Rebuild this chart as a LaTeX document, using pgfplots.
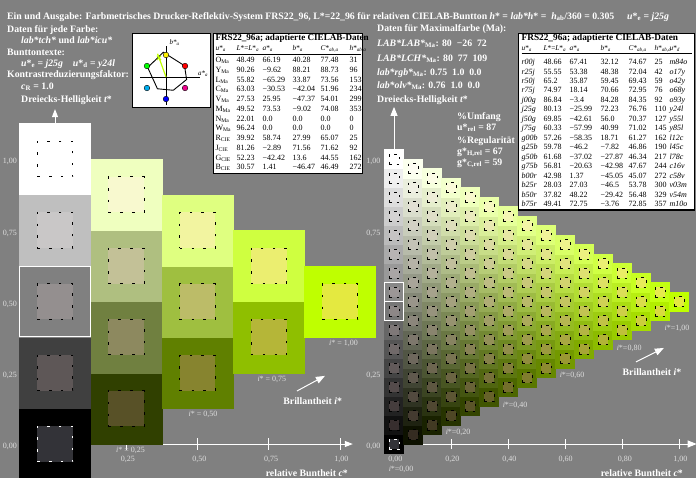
\documentclass[border=0pt]{standalone}
\usepackage{fontspec}
\setmainfont{Liberation Serif}
\usepackage{pgfplots}
\pgfplotsset{compat=1.18}
\usepackage{pgfplotstable}
\usetikzlibrary{arrows.meta}

\definecolor{bgc}{rgb}{0.5,0.5,0.5}
\definecolor{lbl}{rgb}{0.87,0.87,0.87}
\definecolor{maxc}{rgb}{0.75,1,0}
\definecolor{blackin}{rgb}{0.2,0.2,0.22}

\newcommand\sub[1]{\textsubscript{#1}}
\newcommand\tb{\fontsize{9.8bp}{11bp}\selectfont\bfseries}
\newcommand\tk{\fontsize{8bp}{9bp}\selectfont}
\newcommand\hv[2]{\textit{#1}*\sub{\textit{#2}}}
\newcommand\hs{\fontsize{7.3bp}{9bp}\selectfont}

% colour of a cell: j steps towards the maximal colour, k steps towards white, n steps in all
\newcommand\setcellcolors[3]{%
  \pgfmathsetmacro\cellR{min(1,(0.75*#1+#2)/#3)}%
  \pgfmathsetmacro\cellG{min(1,(#1+#2)/#3)}%
  \pgfmathsetmacro\cellB{min(1,#2/#3)}%
  \definecolor{outc}{rgb}{\cellR,\cellG,\cellB}%
  \pgfmathsetmacro\inR{min(1,0.16+0.84*(0.5*\cellR+0.5*\cellG))}%
  \pgfmathsetmacro\inG{min(1,0.12+0.88*(0.9*\cellG+0.1*\cellB))}%
  \pgfmathsetmacro\inB{min(1,0.12+0.88*(0.85*\cellB+0.15*\cellG))}%
  \definecolor{inc}{rgb}{\inR,\inG,\inB}%
}
\pgfplotsset{
  outcells/.style 2 args={scatter, only marks, mark=square*, mark size=#1,
    visualization depends on={\thisrow{j}\as\jj},
    visualization depends on={\thisrow{k}\as\kk},
    scatter/@pre marker code/.code={\setcellcolors{\jj}{\kk}{#2}\scope[fill=outc,draw=outc,line width=0.3bp]},
    scatter/@post marker code/.code={\endscope}},
  incells/.style n args={4}{scatter, only marks, mark=square*, mark size=#1,
    visualization depends on={\thisrow{j}\as\jj},
    visualization depends on={\thisrow{k}\as\kk},
    scatter/@pre marker code/.code={\setcellcolors{\jj}{\kk}{#2}\scope[fill=inc,draw=black,line width=0.9bp,dash pattern=on #3 off #4]},
    scatter/@post marker code/.code={\endscope}},
}

% lattice of the five-step triangle (j = chroma step, k = white step)
\pgfplotstableread[row sep=\\]{
j k\\
0 0\\0 1\\0 2\\0 3\\0 4\\
1 0\\1 1\\1 2\\1 3\\
2 0\\2 1\\2 2\\
3 0\\3 1\\
4 0\\
}\tabL

% lattice of the sixteen-step triangle
\pgfplotstableread[row sep=\\]{
j k\\
0 0\\0 1\\0 2\\0 3\\0 4\\0 5\\0 6\\0 7\\0 8\\0 9\\0 10\\0 11\\0 12\\0 13\\0 14\\0 15\\
1 0\\1 1\\1 2\\1 3\\1 4\\1 5\\1 6\\1 7\\1 8\\1 9\\1 10\\1 11\\1 12\\1 13\\1 14\\
2 0\\2 1\\2 2\\2 3\\2 4\\2 5\\2 6\\2 7\\2 8\\2 9\\2 10\\2 11\\2 12\\2 13\\
3 0\\3 1\\3 2\\3 3\\3 4\\3 5\\3 6\\3 7\\3 8\\3 9\\3 10\\3 11\\3 12\\
4 0\\4 1\\4 2\\4 3\\4 4\\4 5\\4 6\\4 7\\4 8\\4 9\\4 10\\4 11\\
5 0\\5 1\\5 2\\5 3\\5 4\\5 5\\5 6\\5 7\\5 8\\5 9\\5 10\\
6 0\\6 1\\6 2\\6 3\\6 4\\6 5\\6 6\\6 7\\6 8\\6 9\\
7 0\\7 1\\7 2\\7 3\\7 4\\7 5\\7 6\\7 7\\7 8\\
8 0\\8 1\\8 2\\8 3\\8 4\\8 5\\8 6\\8 7\\
9 0\\9 1\\9 2\\9 3\\9 4\\9 5\\9 6\\
10 0\\10 1\\10 2\\10 3\\10 4\\10 5\\
11 0\\11 1\\11 2\\11 3\\11 4\\
12 0\\12 1\\12 2\\12 3\\
13 0\\13 1\\13 2\\
14 0\\14 1\\
15 0\\
}\tabR

\begin{document}
\begin{tikzpicture}
\fill[bgc] (0,0) rectangle (696bp,-478bp);

% ---- header texts
\begin{scope}[every node/.style={anchor=base west, text=white, font=\tb, inner sep=0pt}]
\node at (7bp,-19.5bp) {Ein und Ausgabe: Farbmetrisches Drucker-Reflektiv-System FRS22\_96, L*=22\_96 für relativen CIELAB-Buntton \textit{h}* = \textit{lab*h}* = \ \textit{h}\sub{ab}/360 = 0.305};
\node at (627bp,-19.5bp) {\textit{u}*\sub{e} = \textit{j25g}};
\node at (7bp,-32.5bp) {Daten für jede Farbe:};
\node at (21bp,-43.5bp) {\textit{lab*tch*} und \textit{lab*icu*}};
\node at (7bp,-55.5bp) {Bunttontexte:};
\node at (21bp,-66.5bp) {\textit{u}*\sub{e} = \textit{j25g}\hspace{10bp}\textit{u}*\sub{d} = \textit{y24l}};
\node at (7bp,-77.5bp) {Kontrastreduzierungsfaktor:};
\node at (21bp,-89.5bp) {\textit{c}\sub{R} = 1.0};
\node at (21bp,-102.5bp) {Dreiecks-Helligkeit \textit{t}*};
\node at (377bp,-31.5bp) {Daten für Maximalfarbe (Ma):};
\node at (377bp,-46.5bp) {\textit{LAB*LAB*}\sub{Ma}: 80\enspace−26\enspace72};
\node at (377bp,-61bp) {\textit{LAB*LCH*}\sub{Ma}: 80\enspace77\enspace109};
\node at (377bp,-75bp) {\textit{lab*rgb*}\sub{Ma}: 0.75\enspace1.0\enspace0.0};
\node at (377bp,-88.5bp) {\textit{lab*olv*}\sub{Ma}: 0.76\enspace1.0\enspace0.0};
\node at (377bp,-102.5bp) {Dreiecks-Helligkeit \textit{t}*};
\node at (457bp,-119.5bp) {\%Umfang};
\node at (457bp,-130.5bp) {u*\sub{rel} = 87};
\node at (457bp,-143.5bp) {\%Regularität};
\node at (457bp,-154.5bp) {g*\sub{H,rel} = 67};
\node at (457bp,-165.5bp) {g*\sub{C,rel} = 59};
\end{scope}

% ---- hue circle
\draw[fill=white, line width=0.8bp] (132bp,-33bp) rectangle (210bp,-107bp);
\begin{axis}[anchor=south west, at={(132bp,-107bp)}, scale only axis,
  width=78bp, height=74bp, xmin=-121.4, xmax=157.1, ymin=-107.1, ymax=157.1,
  hide axis, clip=false]
\draw[black, line width=0.7bp] (axis cs:-93,0) -- (axis cs:121,0);
\draw[black, line width=0.7bp] (axis cs:0,-100) -- (axis cs:0,112);
\node[anchor=west, font=\fontsize{7bp}{8bp}\selectfont\itshape, inner sep=0pt] at (axis cs:12,122) {b*\sub{a}};
\node[anchor=west, font=\fontsize{7bp}{8bp}\selectfont\itshape, inner sep=0pt] at (axis cs:114,10) {a*\sub{a}};
\addplot[black, line width=0.9bp] coordinates {
  (66.19,40.28) (-9.62,88.21) (-65.29,33.87) (-30.53,-42.04) (25.95,-47.37) (73.53,-9.02) (66.19,40.28)};
\addplot[maxc, line width=1.2bp] coordinates {(0,0) (-30,83)};
\addplot[maxc, only marks, mark=x, mark size=3bp, line width=1bp] coordinates {(-25,68)};
\addplot[only marks, mark=*, mark size=2.8bp, mark options={draw=none, fill=red}] coordinates {(68,39.3)};
\addplot[only marks, mark=*, mark size=2.8bp, mark options={draw=none, fill=yellow}] coordinates {(0,78.6)};
\addplot[only marks, mark=*, mark size=2.8bp, mark options={draw=none, fill=green}] coordinates {(-68,39.3)};
\addplot[only marks, mark=*, mark size=2.8bp, mark options={draw=none, fill=cyan}] coordinates {(-68,-39.3)};
\addplot[only marks, mark=*, mark size=2.8bp, mark options={draw=none, fill=blue}] coordinates {(0,-78.6)};
\addplot[only marks, mark=*, mark size=2.8bp, mark options={draw=none, fill=magenta}] coordinates {(68,-39.3)};
\end{axis}

% ---- table of the basic colours
\node[anchor=north west, fill=white, draw=black, line width=1.2bp, text=black,
      inner xsep=2bp, inner ysep=0.5bp] at (213bp,-33bp) {%
\fontsize{8bp}{9.73bp}\selectfont\setlength\tabcolsep{0pt}%
\begin{tabular}{@{}p{21bp}p{26bp}p{30bp}p{28bp}p{29bp}p{11bp}@{}}
\multicolumn{6}{@{}l@{}}{\rlap{\fontsize{9.1bp}{9.73bp}\selectfont\bfseries FRS22\_96a; adaptierte CIELAB-Daten}}\\
\hs\hv{u}{a} & \hs\textit{L}*=\hv{L}{a} & \hs\hv{a}{a} & \hs\hv{b}{a} & \hs\hv{C}{ab,a} & \hs\hv{h}{ab,a}\\
\hline\noalign{\vskip 2bp}
O\sub{Ma} & 48.49 & 66.19 & 40.28 & 77.48 & 31\\
Y\sub{Ma} & 90.26 & −9.62 & 88.21 & 88.73 & 96\\
L\sub{Ma} & 55.82 & −65.29 & 33.87 & 73.56 & 153\\
C\sub{Ma} & 63.03 & −30.53 & −42.04 & 51.96 & 234\\
V\sub{Ma} & 27.53 & 25.95 & −47.37 & 54.01 & 299\\
M\sub{Ma} & 49.52 & 73.53 & −9.02 & 74.08 & 353\\
N\sub{Ma} & 22.01 & 0.0 & 0.0 & 0.0 & 0\\
W\sub{Ma} & 96.24 & 0.0 & 0.0 & 0.0 & 0\\
R\sub{CIE} & 39.92 & 58.74 & 27.99 & 65.07 & 25\\
J\sub{CIE} & 81.26 & −2.89 & 71.56 & 71.62 & 92\\
G\sub{CIE} & 52.23 & −42.42 & 13.6 & 44.55 & 162\\
B\sub{CIE} & 30.57 & 1.41 & −46.47 & 46.49 & 272\\
\end{tabular}};

% ---- table of the hue steps
\node[anchor=north west, fill=white, draw=black, line width=1.2bp, text=black,
      inner xsep=3bp, inner ysep=0.5bp] at (518bp,-33bp) {%
\fontsize{8bp}{9.47bp}\selectfont\setlength\tabcolsep{0pt}%
\begin{tabular}{@{}>{\itshape}p{22bp}p{26bp}p{31bp}p{28bp}p{26bp}p{15bp}>{\itshape}p{22bp}@{}}
\multicolumn{7}{@{}l@{}}{\rlap{\upshape\fontsize{9.3bp}{9.47bp}\selectfont\bfseries FRS22\_96a; adaptierte CIELAB-Daten}}\\
\upshape\hs\hv{u}{a} & \hs\textit{L}*=\hv{L}{a} & \hs\hv{a}{a} & \hs\hv{b}{a} & \hs\hv{C}{ab,a} & \hs\hv{h}{ab,a} & \upshape\hs\hv{u}{d}\\
\hline\noalign{\vskip 4.5bp}
r00j & 48.66 & 67.41 & 32.12 & 74.67 & 25 & m84o\\
r25j & 55.55 & 53.38 & 48.38 & 72.04 & 42 & o17y\\
r50j & 65.2 & 35.87 & 59.45 & 69.43 & 59 & o42y\\
r75j & 74.97 & 18.14 & 70.66 & 72.95 & 76 & o68y\\
j00g & 86.84 & −3.4 & 84.28 & 84.35 & 92 & o93y\\
j25g & 80.13 & −25.99 & 72.23 & 76.76 & 110 & y24l\\
j50g & 69.85 & −42.61 & 56.0 & 70.37 & 127 & y55l\\
j75g & 60.33 & −57.99 & 40.99 & 71.02 & 145 & y85l\\
g00b & 57.26 & −58.35 & 18.71 & 61.27 & 162 & l12c\\
g25b & 59.78 & −46.2 & −7.82 & 46.86 & 190 & l45c\\
g50b & 61.68 & −37.02 & −27.87 & 46.34 & 217 & l78c\\
g75b & 56.81 & −20.63 & −42.98 & 47.67 & 244 & c16v\\
b00r & 42.98 & 1.37 & −45.05 & 45.07 & 272 & c58v\\
b25r & 28.03 & 27.03 & −46.5 & 53.78 & 300 & v03m\\
b50r & 37.82 & 48.22 & −29.42 & 56.48 & 329 & v54m\\
b75r & 49.41 & 72.75 & −3.76 & 72.85 & 357 & m10o\\
\end{tabular}};

% ---- five-step triangle
\begin{axis}[anchor=origin, at={(55bp,-444bp)}, x=285bp, y=285bp,
  xmin=-0.2, xmax=1.2, ymin=-0.2, ymax=1.25, hide axis, clip=false]
\draw[white, line width=1bp, -{Triangle[length=8bp,width=6bp]}] (axis cs:0,0) -- (axis cs:1.045,0);
\pgfplotsinvokeforeach{0.25,0.5,0.75,1}{\draw[white, line width=1bp] (axis cs:#1,-0.021) -- (axis cs:#1,0.021);}
\draw[white, line width=1bp, -{Triangle[length=8bp,width=6bp]}] (axis cs:0,1.12) -- (axis cs:0,1.175);
\addplot[outcells={35.6bp}{4}] table[x expr=\thisrow{j}/4, y expr=\thisrow{j}/8+\thisrow{k}/4] {\tabL};
\addplot[incells={17.8bp}{4}{2.5bp}{9.3bp}] table[x expr=\thisrow{j}/4, y expr=\thisrow{j}/8+\thisrow{k}/4] {\tabL};
\addplot[only marks, mark=square*, mark size=17.8bp, mark options={fill=blackin, draw=white, line width=0.9bp, dash pattern=on 2.5bp off 9.3bp}] coordinates {(0,0)};
\addplot[only marks, mark=square, mark size=35.2bp, mark options={draw=white, line width=0.9bp, solid}] coordinates {(0,0.5)};
\draw[white, line width=1bp, -{Triangle[length=9bp,width=7bp]}] (axis cs:0.849,0.186) -- (axis cs:0.947,0.239);
\node[text=lbl, font=\tk, inner sep=0pt] at (axis cs:-0.158,0.99) {1,00};
\node[text=lbl, font=\tk, inner sep=0pt] at (axis cs:-0.158,0.74) {0,75};
\node[text=lbl, font=\tk, inner sep=0pt] at (axis cs:-0.158,0.49) {0,50};
\node[text=lbl, font=\tk, inner sep=0pt] at (axis cs:-0.158,0.24) {0,25};
\node[text=lbl, font=\tk, inner sep=0pt] at (axis cs:-0.158,-0.01) {0,00};
\node[text=lbl, font=\tk, inner sep=0pt] at (axis cs:0.256,-0.053) {0,25};
\node[text=lbl, font=\tk, inner sep=0pt] at (axis cs:0.507,-0.053) {0,50};
\node[text=lbl, font=\tk, inner sep=0pt] at (axis cs:0.758,-0.053) {0,75};
\node[text=lbl, font=\tk, inner sep=0pt] at (axis cs:1.005,-0.053) {1,00};
\node[text=lbl, font=\tk, inner sep=0pt] at (axis cs:0.265,-0.021) {\textit{i}* = 0,25};
\node[text=lbl, font=\tk, inner sep=0pt] at (axis cs:0.519,0.102) {\textit{i}* = 0,50};
\node[text=lbl, font=\tk, inner sep=0pt] at (axis cs:0.761,0.228) {\textit{i}* = 0,75};
\node[text=lbl, font=\tk, inner sep=0pt] at (axis cs:1.012,0.354) {\textit{i}* = 1,00};
\node[text=white, font=\tb, inner sep=0pt] at (axis cs:0.904,0.151) {Brillantheit \textit{i}*};
\node[text=white, font=\tb, inner sep=0pt, anchor=east] at (axis cs:1.028,-0.102) {relative Buntheit \textit{c}*};
\end{axis}

% ---- sixteen-step triangle
\begin{axis}[anchor=origin, at={(394bp,-444bp)}, x=285bp, y=285bp,
  xmin=-0.1, xmax=1.1, ymin=-0.1, ymax=1.2, hide axis, clip=false]
\draw[white, line width=1bp, -{Triangle[length=9bp,width=7bp]}] (axis cs:0,0) -- (axis cs:1.062,0);
\pgfplotsinvokeforeach{0.2,0.4,0.6,0.8,1}{\draw[white, line width=1bp] (axis cs:#1,-0.018) -- (axis cs:#1,0.018);}
\draw[white, line width=1bp, -{Triangle[length=9bp,width=7bp]}] (axis cs:0,1.03) -- (axis cs:0,1.183);
\addplot[outcells={9.55bp}{15}] table[x expr=\thisrow{j}/15, y expr=\thisrow{j}/30+\thisrow{k}/15] {\tabR};
\addplot[incells={5bp}{15}{2.5bp}{5bp}] table[x expr=\thisrow{j}/15, y expr=\thisrow{j}/30+\thisrow{k}/15] {\tabR};
\addplot[only marks, mark=square*, mark size=5bp, mark options={fill=blackin, draw=white, line width=0.9bp, dash pattern=on 2.5bp off 5bp}] coordinates {(0,0)};
\addplot[only marks, mark=square, mark size=9.3bp, mark options={draw=white, line width=0.9bp, solid}] coordinates {(0,0.46667) (0,0.53333)};
\draw[white, line width=1bp, -{Triangle[length=9bp,width=7bp]}] (axis cs:0.849,0.288) -- (axis cs:0.947,0.337);
\node[text=lbl, font=\tk, inner sep=0pt] at (axis cs:-0.072,0.99) {1,00};
\node[text=lbl, font=\tk, inner sep=0pt] at (axis cs:-0.072,0.74) {0,75};
\node[text=lbl, font=\tk, inner sep=0pt] at (axis cs:-0.072,0.24) {0,25};
\node[text=lbl, font=\tk, inner sep=0pt] at (axis cs:-0.072,-0.01) {0,00};
\node[text=lbl, font=\tk, inner sep=0pt] at (axis cs:0.005,-0.053) {0,00};
\node[text=lbl, font=\tk, inner sep=0pt] at (axis cs:0.205,-0.053) {0,20};
\node[text=lbl, font=\tk, inner sep=0pt] at (axis cs:0.405,-0.053) {0,40};
\node[text=lbl, font=\tk, inner sep=0pt] at (axis cs:0.602,-0.053) {0,60};
\node[text=lbl, font=\tk, inner sep=0pt] at (axis cs:0.81,-0.053) {0,80};
\node[text=lbl, font=\tk, inner sep=0pt] at (axis cs:1.005,-0.053) {1,00};
\node[text=lbl, font=\tk, inner sep=0pt] at (axis cs:0.025,-0.091) {\textit{i}*=0,00};
\node[text=lbl, font=\tk, inner sep=0pt] at (axis cs:0.225,0.039) {\textit{i}*=0,20};
\node[text=lbl, font=\tk, inner sep=0pt] at (axis cs:0.425,0.137) {\textit{i}*=0,40};
\node[text=lbl, font=\tk, inner sep=0pt] at (axis cs:0.625,0.239) {\textit{i}*=0,60};
\node[text=lbl, font=\tk, inner sep=0pt] at (axis cs:0.825,0.337) {\textit{i}*=0,80};
\node[text=lbl, font=\tk, inner sep=0pt] at (axis cs:0.993,0.407) {\textit{i}*=1,00};
\node[text=white, font=\tb, inner sep=0pt] at (axis cs:0.905,0.253) {Brillantheit \textit{i}*};
\node[text=white, font=\tb, inner sep=0pt, anchor=east] at (axis cs:1.014,-0.102) {relative Buntheit \textit{c}*};
\end{axis}

\pgfresetboundingbox
\path[use as bounding box] (0,0) rectangle (696bp,-478bp);
\end{tikzpicture}
\end{document}
